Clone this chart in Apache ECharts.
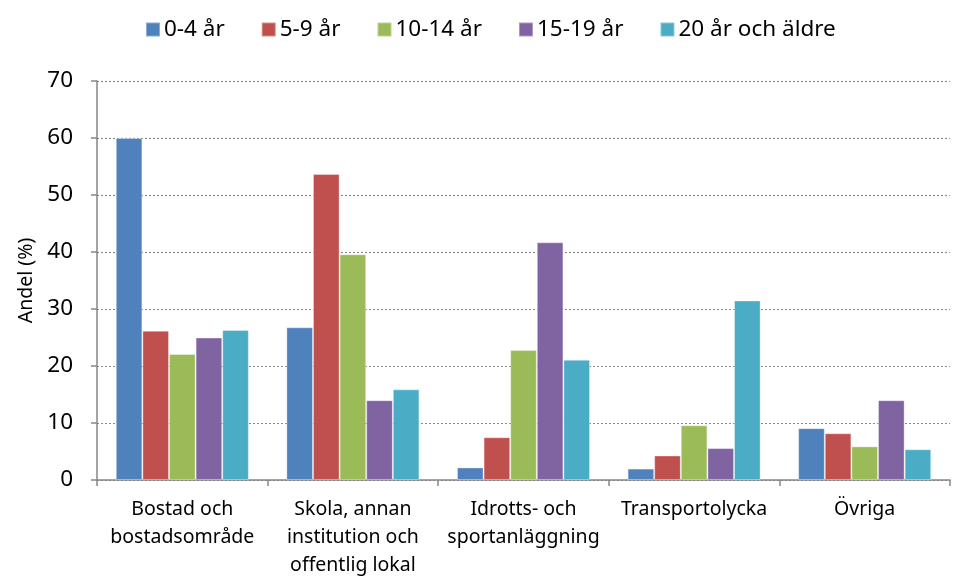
<!DOCTYPE html>
<html>
<head>
<meta charset="utf-8">
<script src="https://cdn.jsdelivr.net/npm/echarts@6/dist/echarts.min.js"></script>
<style>
    html, body { margin: 0; padding: 0; background: #fff; }
    #main { width: 956px; height: 579px; }
</style>
</head>
<body>
<div id="main"></div>
<script>
var categories = ['Bostad och\nbostadsområde', 'Skola, annan\ninstitution och\noffentlig lokal',
    'Idrotts- och\nsportanläggning', 'Transportolycka', 'Övriga'];
var seriesNames = ['0-4 år', '5-9 år', '10-14 år', '15-19 år', '20 år och äldre'];
var age0_4 = [60.0, 26.8, 2.2, 2.0, 9.1];
var age5_9 = [26.2, 53.7, 7.5, 4.3, 8.2];
var age10_14 = [22.1, 39.6, 22.8, 9.6, 5.9];
var age15_19 = [25.0, 14.0, 41.7, 5.6, 14.0];
var age20plus = [26.3, 15.9, 21.1, 31.5, 5.4];
var colors = ['#4F81BD', '#C0504D', '#9BBB59', '#8064A2', '#4BACC6'];

var fontName = 'Noto Sans';
var allData = [age0_4, age5_9, age10_14, age15_19, age20plus];

var series = [];
for (var i = 0; i < seriesNames.length; i++) {
    series.push({
        name: seriesNames[i],
        type: 'bar',
        data: allData[i],
        barGap: '0%',
        barCategoryGap: '22%',
        itemStyle: {
            color: colors[i],
            borderColor: 'rgba(255,255,255,0.35)',
            borderWidth: 1
        }
    });
}

var myChart = echarts.init(document.getElementById('main'));
var option = {
    color: colors,
    textStyle: { fontFamily: fontName },
    legend: {
        top: 13,
        left: 140,
        itemWidth: 14,
        itemHeight: 14,
        itemGap: 36,
        icon: 'rect',
        textStyle: { fontSize: 22.5, color: '#000', fontFamily: fontName, padding: [0, 0, 0, -1] },
        data: seriesNames
    },
    grid: {
        left: 97,
        right: 6,
        top: 81,
        bottom: 98
    },
    xAxis: {
        type: 'category',
        data: categories,
        axisLine: { lineStyle: { color: '#868686', width: 1.5 } },
        axisTick: { show: true, length: 6, alignWithLabel: false, lineStyle: { color: '#868686', width: 1.5 } },
        axisLabel: { fontSize: 19.5, color: '#000', lineHeight: 28, margin: 15, interval: 0 }
    },
    yAxis: {
        type: 'value',
        min: 0,
        max: 70,
        interval: 10,
        name: 'Andel (%)',
        nameLocation: 'middle',
        nameGap: 58,
        nameTextStyle: { fontSize: 19.5, color: '#000' },
        axisLine: { show: true, lineStyle: { color: '#868686', width: 1.5 } },
        axisTick: { show: true, length: 6, lineStyle: { color: '#868686', width: 1.5 } },
        axisLabel: { fontSize: 22.5, color: '#000', margin: 24 },
        splitLine: { lineStyle: { color: '#8a8a8a', type: [2, 2], width: 1.2 } }
    },
    series: series
};
if (option && typeof option === "object") {
    myChart.setOption(option, true);
}
</script>
</body>
</html>
